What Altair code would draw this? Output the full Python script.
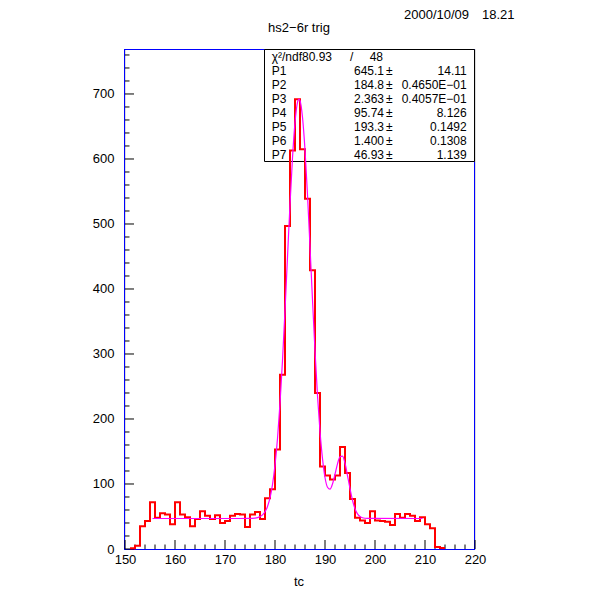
import altair as alt
import pandas as pd

# ---- data ----
bin_left = [151, 152, 153, 154, 155, 156, 157, 158, 159, 160,
            161, 162, 163, 164, 165, 166, 167, 168, 169, 170,
            171, 172, 173, 174, 175, 176, 177, 178, 179, 180,
            181, 182, 183, 184, 185, 186, 187, 188, 189, 190,
            191, 192, 193, 194, 195, 196, 197, 198, 199, 200,
            201, 202, 203, 204, 205, 206, 207, 208, 209, 210,
            211, 212, 213]
counts = [1, 5, 35, 43, 72, 48, 55, 53, 38, 72,
          53, 49, 35, 46, 58, 51, 46, 52, 40, 43,
          51, 54, 53, 34, 53, 57, 46, 78, 92, 153,
          268, 497, 613, 692, 615, 539, 429, 240, 127, 113,
          107, 113, 157, 117, 77, 48, 44, 40, 58, 44,
          43, 42, 37, 54, 48, 54, 51, 43, 49, 38,
          32, 3, 1.5]
hist_end = 214

fit_x = [155.5, 170, 175, 176, 177, 177.5, 178, 178.5, 179, 179.5,
         180, 180.5, 181, 181.5, 182, 182.5, 183, 183.5, 184, 184.5,
         184.8, 185, 185.5, 186, 186.5, 187, 187.5, 188, 188.5, 189,
         189.5, 190, 190.5, 191, 191.5, 192, 192.5, 193, 193.5, 194,
         194.5, 195, 195.5, 196, 196.5, 197, 197.5, 198, 199, 209.5]
fit_y = [46.9, 46.9, 47.0, 47.5, 49.8, 52.4, 57.2, 65.4, 78.6, 99,
         129, 170, 224, 290, 367, 449, 530, 602, 656, 687,
         692, 690, 664, 614, 545, 465, 383, 305, 236, 181,
         139, 110, 95, 92, 100, 115, 131, 142, 143, 132,
         113, 93, 75, 62, 54, 50, 48, 47.3, 47.0, 46.9]

x_major = [150, 160, 170, 180, 190, 200, 210, 220]
x_minor = [152, 154, 156, 158, 162, 164, 166, 168, 172, 174, 176, 178,
           182, 184, 186, 188, 192, 194, 196, 198, 202, 204, 206, 208,
           212, 214, 216, 218]
y_major = [0, 100, 200, 300, 400, 500, 600, 700]
y_minor = [20, 40, 60, 80, 120, 140, 160, 180, 220, 240, 260, 280,
           320, 340, 360, 380, 420, 440, 460, 480, 520, 540, 560, 580,
           620, 640, 660, 680, 720, 740, 760]

stat_labels = ["P1", "P2", "P3", "P4", "P5", "P6", "P7"]
stat_values = ["645.1", "184.8", "2.363", "95.74", "193.3", "1.400", "46.93"]
stat_errors = ["14.11", "0.4650E\u221201", "0.4057E\u221201", "8.126",
               "0.1492", "0.1308", "1.139"]
chi2_text = "\u03c7\u00b2/ndf80.93"
ndf_text = "48"
title_text = "hs2\u22126r trig"
date_text = "2000/10/09"
time_text = "18.21"
x_title = "tc"

# ---- chart ----
W, H = 350, 500
FONT = "Liberation Sans"
BLUE = "#0000ff"
xscale = alt.Scale(domain=[150, 220], nice=False, zero=False)
yscale = alt.Scale(domain=[0, 769.2], nice=False, zero=True)

xaxis = alt.Axis(values=x_major, format="d", ticks=False, tickSize=0,
                 domain=False, grid=False, labelPadding=4,
                 labelFont=FONT, labelFontSize=13, labelColor="black",
                 labelFlush=False, labelOverlap=False, title=None)
yaxis = alt.Axis(values=y_major, format="d", ticks=False, tickSize=0,
                 domain=False, grid=False, labelPadding=11,
                 labelFont=FONT, labelFontSize=13, labelColor="black",
                 labelFlush=False, labelOverlap=False, title=None)

hist_df = pd.DataFrame({"x": bin_left + [hist_end], "y": counts + [counts[-1]]})
fit_df = pd.DataFrame({"x": fit_x, "y": fit_y})

one = pd.DataFrame({"a": [0]})


def frame_rule(**enc):
    return alt.Chart(one).mark_rule(color=BLUE, strokeWidth=1).encode(**enc)


frame = [
    frame_rule(x=alt.value(-0.5), y=alt.value(0), y2=alt.value(H + 1)),
    frame_rule(x=alt.value(W - 0.5), y=alt.value(0), y2=alt.value(H + 1)),
    frame_rule(x=alt.value(-1), x2=alt.value(W), y=alt.value(0.5)),
    frame_rule(x=alt.value(-1), x2=alt.value(W), y=alt.value(H + 0.5)),
]

box = alt.Chart(one).mark_rect(fill="white", stroke="black", strokeWidth=1).encode(
    x=alt.value(139.5), x2=alt.value(349.5), y=alt.value(0.5), y2=alt.value(112.5))


def txt(s, x, y, align="left", size=12):
    return alt.Chart(pd.DataFrame({"t": [s]})).mark_text(
        align=align, baseline="alphabetic", font=FONT, fontSize=size, color="black"
    ).encode(x=alt.value(x), y=alt.value(y), text="t:N")


texts = [txt(chi2_text, 146.7, 12), txt("/", 225, 12), txt(ndf_text, 258, 12, "right")]
for i, (lab, val, err) in enumerate(zip(stat_labels, stat_values, stat_errors)):
    yb = 26 + 14 * i
    texts.append(txt(lab, 146.7, yb))
    texts.append(txt(val, 259, yb, "right"))
    texts.append(txt("\u00b1", 261, yb))
    texts.append(txt(err, 341.7, yb, "right"))

texts.append(txt(title_text, 174, -17, "center", 13))
texts.append(txt(date_text, 279, -30, "left", 13))
texts.append(txt(time_text, 357, -30, "left", 13))
texts.append(txt(x_title, 174, 537, "center", 13))

xt_major = alt.Chart(pd.DataFrame({"v": x_major})).mark_rule(color="black").encode(
    x=alt.X("v:Q", scale=xscale, axis=xaxis), y=alt.value(H), y2=alt.value(H - 9))
xt_minor = alt.Chart(pd.DataFrame({"v": x_minor})).mark_rule(color="black").encode(
    x=alt.X("v:Q", scale=xscale, axis=xaxis), y=alt.value(H), y2=alt.value(H - 4.5))
yt_major = alt.Chart(pd.DataFrame({"v": y_major})).mark_rule(color="black").encode(
    y=alt.Y("v:Q", scale=yscale, axis=yaxis), x=alt.value(0), x2=alt.value(9))
yt_minor = alt.Chart(pd.DataFrame({"v": y_minor})).mark_rule(color="black").encode(
    y=alt.Y("v:Q", scale=yscale, axis=yaxis), x=alt.value(0), x2=alt.value(4.5))

hist = alt.Chart(hist_df).mark_line(
    interpolate="step-after", color="#ff0000", strokeWidth=2
).encode(
    x=alt.X("x:Q", scale=xscale, axis=xaxis),
    y=alt.Y("y:Q", scale=yscale, axis=yaxis),
)

fit = alt.Chart(fit_df).mark_line(
    interpolate="monotone", color="#ff00ff", strokeWidth=1.2
).encode(
    x=alt.X("x:Q", scale=xscale, axis=xaxis),
    y=alt.Y("y:Q", scale=yscale, axis=yaxis),
)

chart = alt.layer(
    *frame, box, *texts, xt_major, xt_minor, yt_major, yt_minor, hist, fit
).properties(
    width=W, height=H,
    autosize=alt.AutoSizeParams(type="none"),
    padding={"left": 117, "top": 41, "right": 117, "bottom": 43},
).configure_view(stroke=None).configure(background="white")

chart.save("out.html", embed_options={"renderer": "svg", "actions": False})
